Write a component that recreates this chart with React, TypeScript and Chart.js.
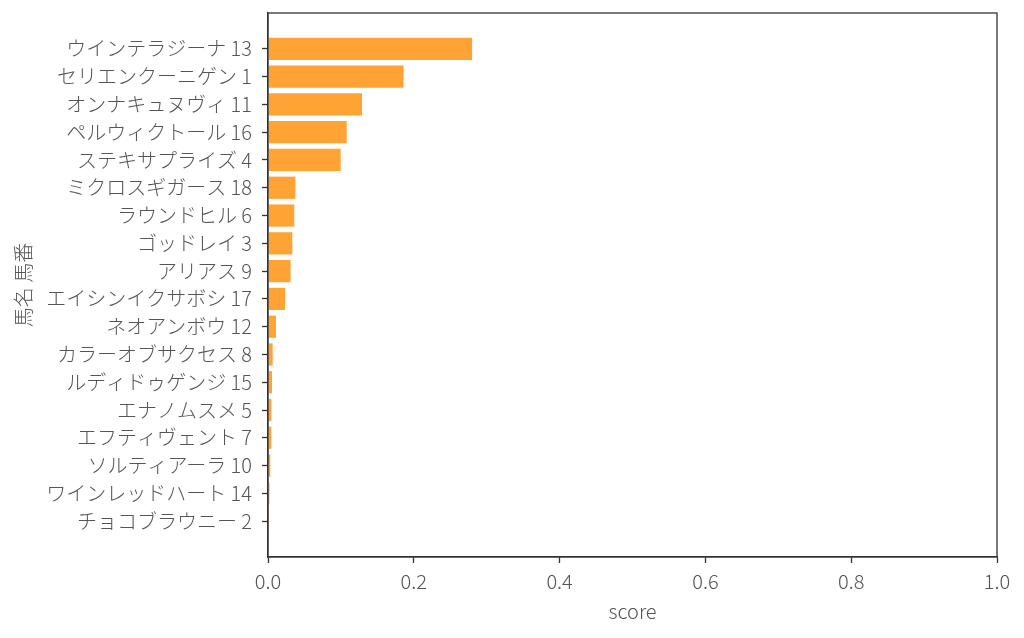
import React, { useEffect, useRef } from "react";
import { Chart, registerables } from "chart.js";

Chart.register(...registerables);

const horseLabels: string[] = [
  "ウインテラジーナ 13",
  "セリエンクーニゲン 1",
  "オンナキュヌヴィ 11",
  "ペルウィクトール 16",
  "ステキサプライズ 4",
  "ミクロスギガース 18",
  "ラウンドヒル 6",
  "ゴッドレイ 3",
  "アリアス 9",
  "エイシンイクサボシ 17",
  "ネオアンボウ 12",
  "カラーオブサクセス 8",
  "ルディドゥゲンジ 15",
  "エナノムスメ 5",
  "エフティヴェント 7",
  "ソルティアーラ 10",
  "ワインレッドハート 14",
  "チョコブラウニー 2",
];

const scores: number[] = [
  0.28, 0.186, 0.129, 0.108, 0.0997, 0.0375, 0.036, 0.0334, 0.031, 0.0233,
  0.011, 0.0064, 0.0055, 0.0046, 0.0045, 0.0032, 0.002, 0.0002,
];

const xTickValues: number[] = [0, 0.2, 0.4, 0.6, 0.8, 1.0];
const xTitle = "score";
const yTitle = "馬名 馬番";

const FONT = "'Noto Sans CJK JP', 'Noto Sans', sans-serif";
const TEXT_COLOR = "#555555";
const AXIS_COLOR = "#333333";
const BAR_COLOR = "#ffa334";

const framePlugin = {
  id: "frame",
  afterDraw(chart: any) {
    const { ctx, chartArea } = chart;
    ctx.save();
    ctx.strokeStyle = AXIS_COLOR;
    ctx.lineWidth = 1.3;
    ctx.strokeRect(chartArea.left, chartArea.top, chartArea.right - chartArea.left, chartArea.bottom - chartArea.top);
    ctx.restore();
  },
};

export default function App() {
  const ref = useRef<HTMLCanvasElement | null>(null);

  useEffect(() => {
    if (!ref.current) return;
    const n = horseLabels.length;
    const margin = (n - 1 + 0.8) * 0.05;
    const chart = new Chart(ref.current, {
      type: "bar",
      data: {
        datasets: [
          {
            data: scores.map((v, i) => ({ x: v, y: i })),
            backgroundColor: BAR_COLOR,
            borderWidth: 0,
            barPercentage: 0.8,
            categoryPercentage: 1,
          },
        ],
      },
      options: {
        indexAxis: "y",
        animation: false,
        responsive: false,
        maintainAspectRatio: false,
        layout: { padding: { top: 13, right: 27, left: 0, bottom: 0 } },
        plugins: {
          legend: { display: false },
          tooltip: { enabled: false },
        },
        scales: {
          x: {
            type: "linear",
            position: "bottom",
            min: 0,
            max: 1,
            afterBuildTicks: (scale: any) => {
              scale.ticks = xTickValues.map((v) => ({ value: v }));
            },
            afterFit: (scale: any) => {
              scale.height = 81;
              scale.paddingLeft = 0;
              scale.paddingRight = 0;
            },
            ticks: {
              callback: (v: any) => Number(v).toFixed(1),
              font: { family: FONT, size: 20, weight: "300" },
              color: TEXT_COLOR,
              padding: 6,
              maxRotation: 0,
            },
            grid: {
              display: true,
              drawOnChartArea: false,
              drawTicks: true,
              tickLength: 6,
              tickWidth: 1.3,
              tickColor: AXIS_COLOR,
            },
            border: { display: true, color: AXIS_COLOR, width: 1.3 },
            title: {
              display: true,
              text: xTitle,
              font: { family: FONT, size: 20, weight: "300" },
              color: TEXT_COLOR,
              padding: { top: 0, bottom: 15 },
            },
          },
          y: {
            type: "linear",
            position: "left",
            reverse: true,
            offset: false,
            min: -0.4 - margin,
            max: n - 1 + 0.4 + margin,
            afterBuildTicks: (scale: any) => {
              scale.ticks = horseLabels.map((_, i) => ({ value: i }));
            },
            afterFit: (scale: any) => {
              scale.width = 268;
              scale.paddingTop = 0;
              scale.paddingBottom = 0;
            },
            ticks: {
              autoSkip: false,
              callback: (v: any) => horseLabels[Number(v)] ?? "",
              font: { family: FONT, size: 20, weight: "300" },
              color: TEXT_COLOR,
              padding: 10,
            },
            grid: {
              display: true,
              offset: false,
              drawOnChartArea: false,
              drawTicks: true,
              tickLength: 6,
              tickWidth: 1.3,
              tickColor: AXIS_COLOR,
            },
            border: { display: true, color: AXIS_COLOR, width: 1.3 },
            title: {
              display: true,
              text: yTitle,
              font: { family: FONT, size: 20, weight: "300" },
              color: TEXT_COLOR,
              padding: { top: 11, bottom: 0 },
            },
          },
        },
      } as any,
      plugins: [framePlugin],
    });
    return () => chart.destroy();
  }, []);

  return (
    <div style={{ position: "fixed", left: 0, top: 0, width: 1024, height: 638, background: "#fff" }}>
      <canvas ref={ref} width={1024} height={638} style={{ width: 1024, height: 638, display: "block" }} />
    </div>
  );
}
